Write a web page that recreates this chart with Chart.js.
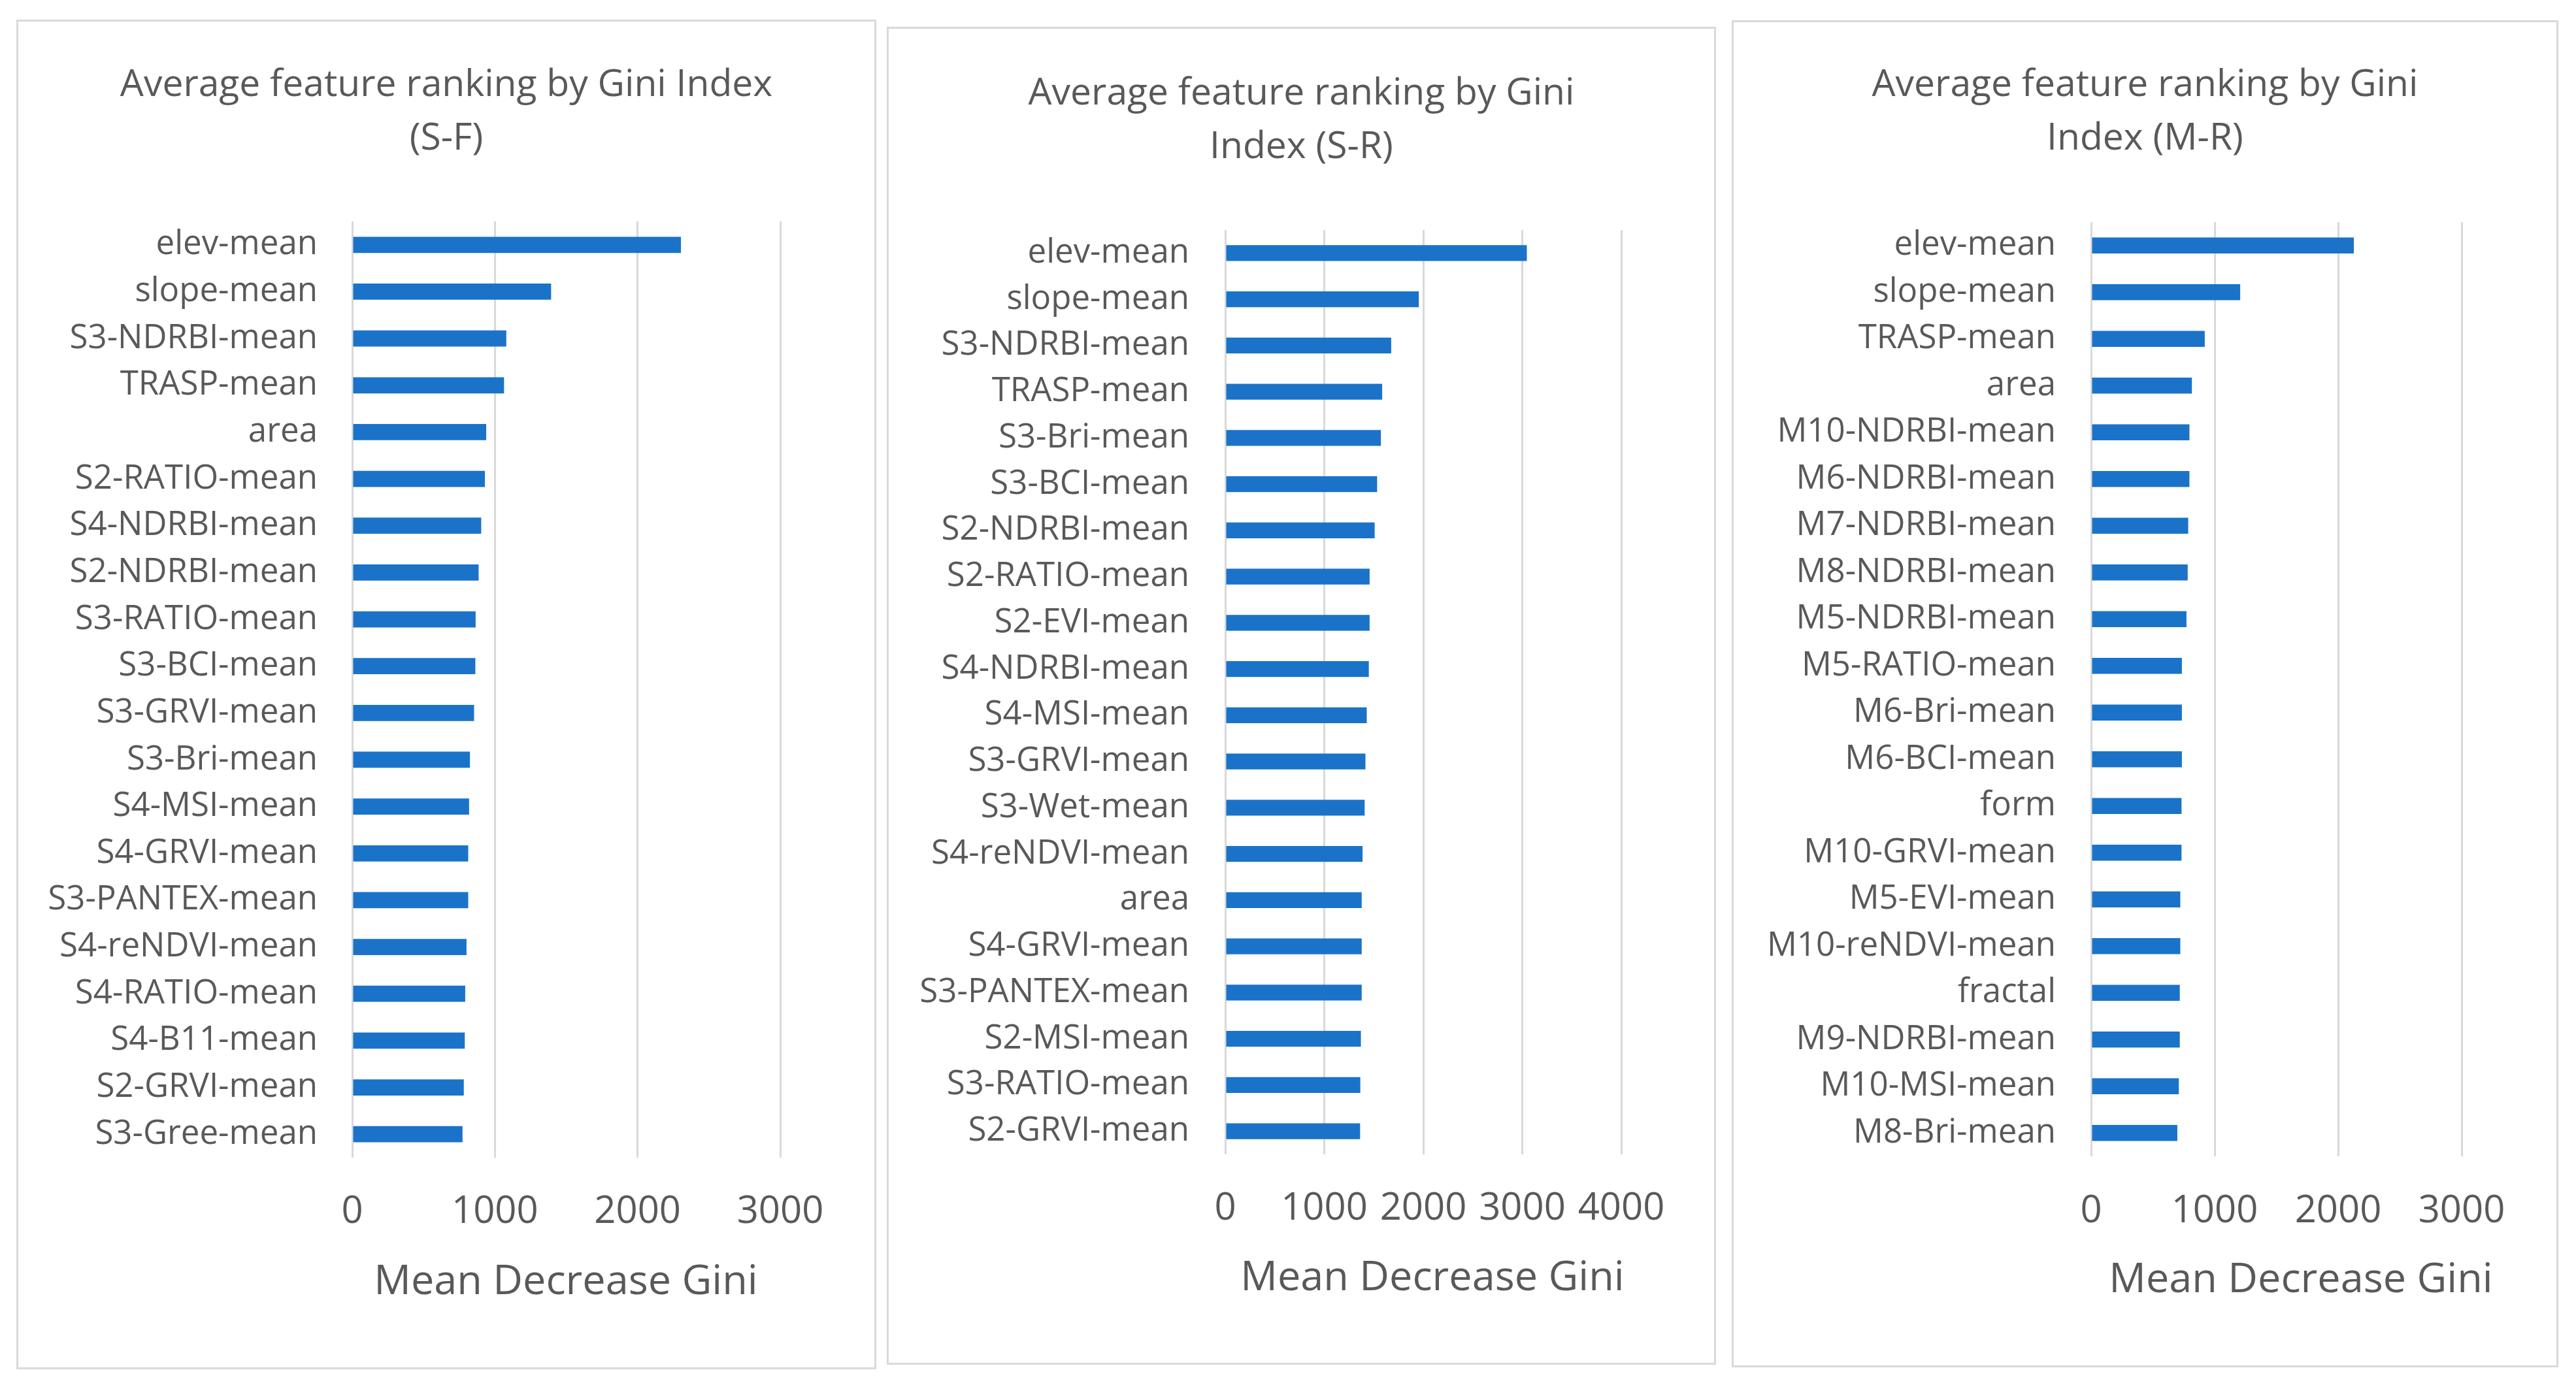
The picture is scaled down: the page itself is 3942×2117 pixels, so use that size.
<!DOCTYPE html>
<html>
<head>
<meta charset="utf-8">
<script src="https://cdn.jsdelivr.net/npm/chart.js@4.4.1/dist/chart.umd.min.js"></script>
<style>
  html, body { margin: 0; padding: 0; background: #ffffff; width: 3942px; height: 2117px; overflow: hidden; }
  .panel { position: absolute; box-sizing: border-box; border: 3px solid #d9d9d9; background: #fff; }
  .panel canvas { position: absolute; left: 0; top: 0; }
</style>
</head>
<body>
<div class="panel" id="p1"><canvas id="c1"></canvas></div>
<div class="panel" id="p2"><canvas id="c2"></canvas></div>
<div class="panel" id="p3"><canvas id="c3"></canvas></div>
<script>
// ---------------- DATA ----------------
const sfTitle = ["Average feature ranking by Gini Index", "(S-F)"];
const sfLabels = ["elev-mean", "slope-mean", "S3-NDRBI-mean", "TRASP-mean", "area", "S2-RATIO-mean",
  "S4-NDRBI-mean", "S2-NDRBI-mean", "S3-RATIO-mean", "S3-BCI-mean", "S3-GRVI-mean", "S3-Bri-mean",
  "S4-MSI-mean", "S4-GRVI-mean", "S3-PANTEX-mean", "S4-reNDVI-mean", "S4-RATIO-mean", "S4-B11-mean",
  "S2-GRVI-mean", "S3-Gree-mean"];
const sfValues = [2304, 1394, 1080, 1064, 939, 930, 904, 886, 865, 863, 854, 825, 819, 813, 813, 801, 792, 789, 782, 773];
const sfTicks = [0, 1000, 2000, 3000];

const srTitle = ["Average feature ranking by Gini", "Index (S-R)"];
const srLabels = ["elev-mean", "slope-mean", "S3-NDRBI-mean", "TRASP-mean", "S3-Bri-mean", "S3-BCI-mean",
  "S2-NDRBI-mean", "S2-RATIO-mean", "S2-EVI-mean", "S4-NDRBI-mean", "S4-MSI-mean", "S3-GRVI-mean",
  "S3-Wet-mean", "S4-reNDVI-mean", "area", "S4-GRVI-mean", "S3-PANTEX-mean", "S2-MSI-mean",
  "S3-RATIO-mean", "S2-GRVI-mean"];
const srValues = [3046, 1955, 1676, 1585, 1572, 1534, 1509, 1458, 1458, 1450, 1429, 1416, 1408, 1387, 1378, 1378, 1378, 1370, 1364, 1362];
const srTicks = [0, 1000, 2000, 3000, 4000];

const mrTitle = ["Average feature ranking by Gini", "Index (M-R)"];
const mrLabels = ["elev-mean", "slope-mean", "TRASP-mean", "area", "M10-NDRBI-mean", "M6-NDRBI-mean",
  "M7-NDRBI-mean", "M8-NDRBI-mean", "M5-NDRBI-mean", "M5-RATIO-mean", "M6-Bri-mean", "M6-BCI-mean",
  "form", "M10-GRVI-mean", "M5-EVI-mean", "M10-reNDVI-mean", "fractal", "M9-NDRBI-mean",
  "M10-MSI-mean", "M8-Bri-mean"];
const mrValues = [2127, 1207, 920, 816, 796, 796, 786, 782, 772, 735, 735, 735, 732, 732, 722, 722, 718, 718, 710, 698];
const mrTicks = [0, 1000, 2000, 3000];

const axisTitle = "Mean Decrease Gini";

// ---------------- STYLE / LAYOUT ----------------
const FONT = "'Open Sans', 'Noto Sans', sans-serif";
const TEXT_COLOR = "#595959";
const BAR_COLOR = "#1a73c8";
const GRID_COLOR = "#d9d9d9";
const BORDER = 3;
const TITLE_SIZE = 57, TITLE_LH = 1.44;
const LABEL_SIZE = 51;
const TICK_SIZE = 58;
const AXT_SIZE = 63;

const layouts = {
  p1: { box: {x: 25, y: 30, w: 1316, h: 2066}, plot: {l: 539, r: 1194, t: 339, b: 1772}, title1: 131, tick: 1855, axisTitle: {x: 866, y: 1963}, gap: 53 },
  p2: { box: {x: 1357, y: 41, w: 1269, h: 2048}, plot: {l: 1875, r: 2481, t: 352, b: 1767}, title1: 144, tick: 1850, axisTitle: {x: 2192, y: 1957}, gap: 55 },
  p3: { box: {x: 2650, y: 31, w: 1265, h: 2062}, plot: {l: 3200, r: 3767, t: 340, b: 1770}, title1: 131, tick: 1854, axisTitle: {x: 3521, y: 1960}, gap: 54 }
};

// Draws the value-axis title at the position Excel used (slightly off the plot centre)
const axisTitlePlugin = {
  id: 'axisTitleAt',
  afterDraw(chart, args, opts) {
    const ctx = chart.ctx;
    ctx.save();
    ctx.font = "normal " + opts.size + "px " + FONT;
    ctx.fillStyle = opts.color;
    ctx.textAlign = 'center';
    ctx.textBaseline = 'middle';
    ctx.fillText(opts.text, opts.x, opts.y);
    ctx.restore();
  }
};

function makeChart(panelId, canvasId, labels, values, titleLines, ticks) {
  const L = layouts[panelId];
  const div = document.getElementById(panelId);
  div.style.left = L.box.x + "px";
  div.style.top = L.box.y + "px";
  div.style.width = L.box.w + "px";
  div.style.height = L.box.h + "px";
  const cx = L.box.x + BORDER, cy = L.box.y + BORDER;
  const cw = L.box.w - 2 * BORDER, ch = L.box.h - 2 * BORDER;
  const canvas = document.getElementById(canvasId);
  canvas.width = cw; canvas.height = ch;
  canvas.style.width = cw + "px"; canvas.style.height = ch + "px";

  const area = { l: L.plot.l - cx, r: L.plot.r - cx, t: L.plot.t - cy, b: L.plot.b - cy };
  const titleLH = TITLE_SIZE * TITLE_LH;
  const titlePadTop = (L.title1 - cy) - titleLH / 2;
  const titlePadBottom = area.t - titlePadTop - titleLH * titleLines.length;
  const tickLH = TICK_SIZE * 1.2;
  const tickPad = (L.tick - L.plot.b) - tickLH / 2;
  const axLH = AXT_SIZE * 1.2;
  const xH = (L.axisTitle.y - L.plot.b) + axLH / 2;
  const padBottom = ch - area.b - xH;
  const rightSpace = cw - area.r;
  const xMax = ticks[ticks.length - 1];

  new Chart(canvas, {
    type: 'bar',
    data: {
      labels: labels,
      datasets: [{
        data: values,
        backgroundColor: BAR_COLOR,
        borderWidth: 0,
        categoryPercentage: 1.0,
        barPercentage: 0.345
      }]
    },
    plugins: [axisTitlePlugin],
    options: {
      indexAxis: 'y',
      responsive: false,
      animation: false,
      devicePixelRatio: 1,
      layout: { padding: { left: 0, top: 0, right: 0, bottom: padBottom } },
      plugins: {
        legend: { display: false },
        tooltip: { enabled: false },
        title: {
          display: true,
          text: titleLines,
          color: TEXT_COLOR,
          font: { family: FONT, size: TITLE_SIZE, weight: 'normal', lineHeight: TITLE_LH },
          padding: { top: titlePadTop, bottom: titlePadBottom }
        },
        axisTitleAt: {
          text: axisTitle,
          size: AXT_SIZE,
          color: TEXT_COLOR,
          x: L.axisTitle.x - cx,
          y: L.axisTitle.y - cy
        }
      },
      scales: {
        x: {
          type: 'linear',
          min: 0,
          max: xMax,
          afterBuildTicks: (s) => { s.ticks = ticks.map(v => ({ value: v })); },
          afterFit: (s) => { s.height = xH; },
          border: { display: false },
          grid: { color: GRID_COLOR, lineWidth: 3, drawTicks: false },
          ticks: {
            color: TEXT_COLOR,
            font: { family: FONT, size: TICK_SIZE, lineHeight: 1.2 },
            padding: tickPad,
            autoSkip: false,
            maxRotation: 0,
            minRotation: 0,
            callback: (v) => String(v)
          },
          title: { display: false }
        },
        y: {
          type: 'category',
          afterFit: (s) => { s.width = area.l; },
          border: { display: false },
          grid: { display: false, drawTicks: false },
          ticks: {
            color: TEXT_COLOR,
            font: { family: FONT, size: LABEL_SIZE, lineHeight: 1.2 },
            padding: L.gap,
            autoSkip: false
          }
        },
        spacer: {
          type: 'linear',
          position: 'right',
          display: true,
          afterFit: (s) => { s.width = rightSpace; },
          border: { display: false },
          grid: { display: false, drawTicks: false },
          ticks: { display: false }
        }
      }
    }
  });
}

makeChart('p1', 'c1', sfLabels, sfValues, sfTitle, sfTicks);
makeChart('p2', 'c2', srLabels, srValues, srTitle, srTicks);
makeChart('p3', 'c3', mrLabels, mrValues, mrTitle, mrTicks);
</script>
</body>
</html>
